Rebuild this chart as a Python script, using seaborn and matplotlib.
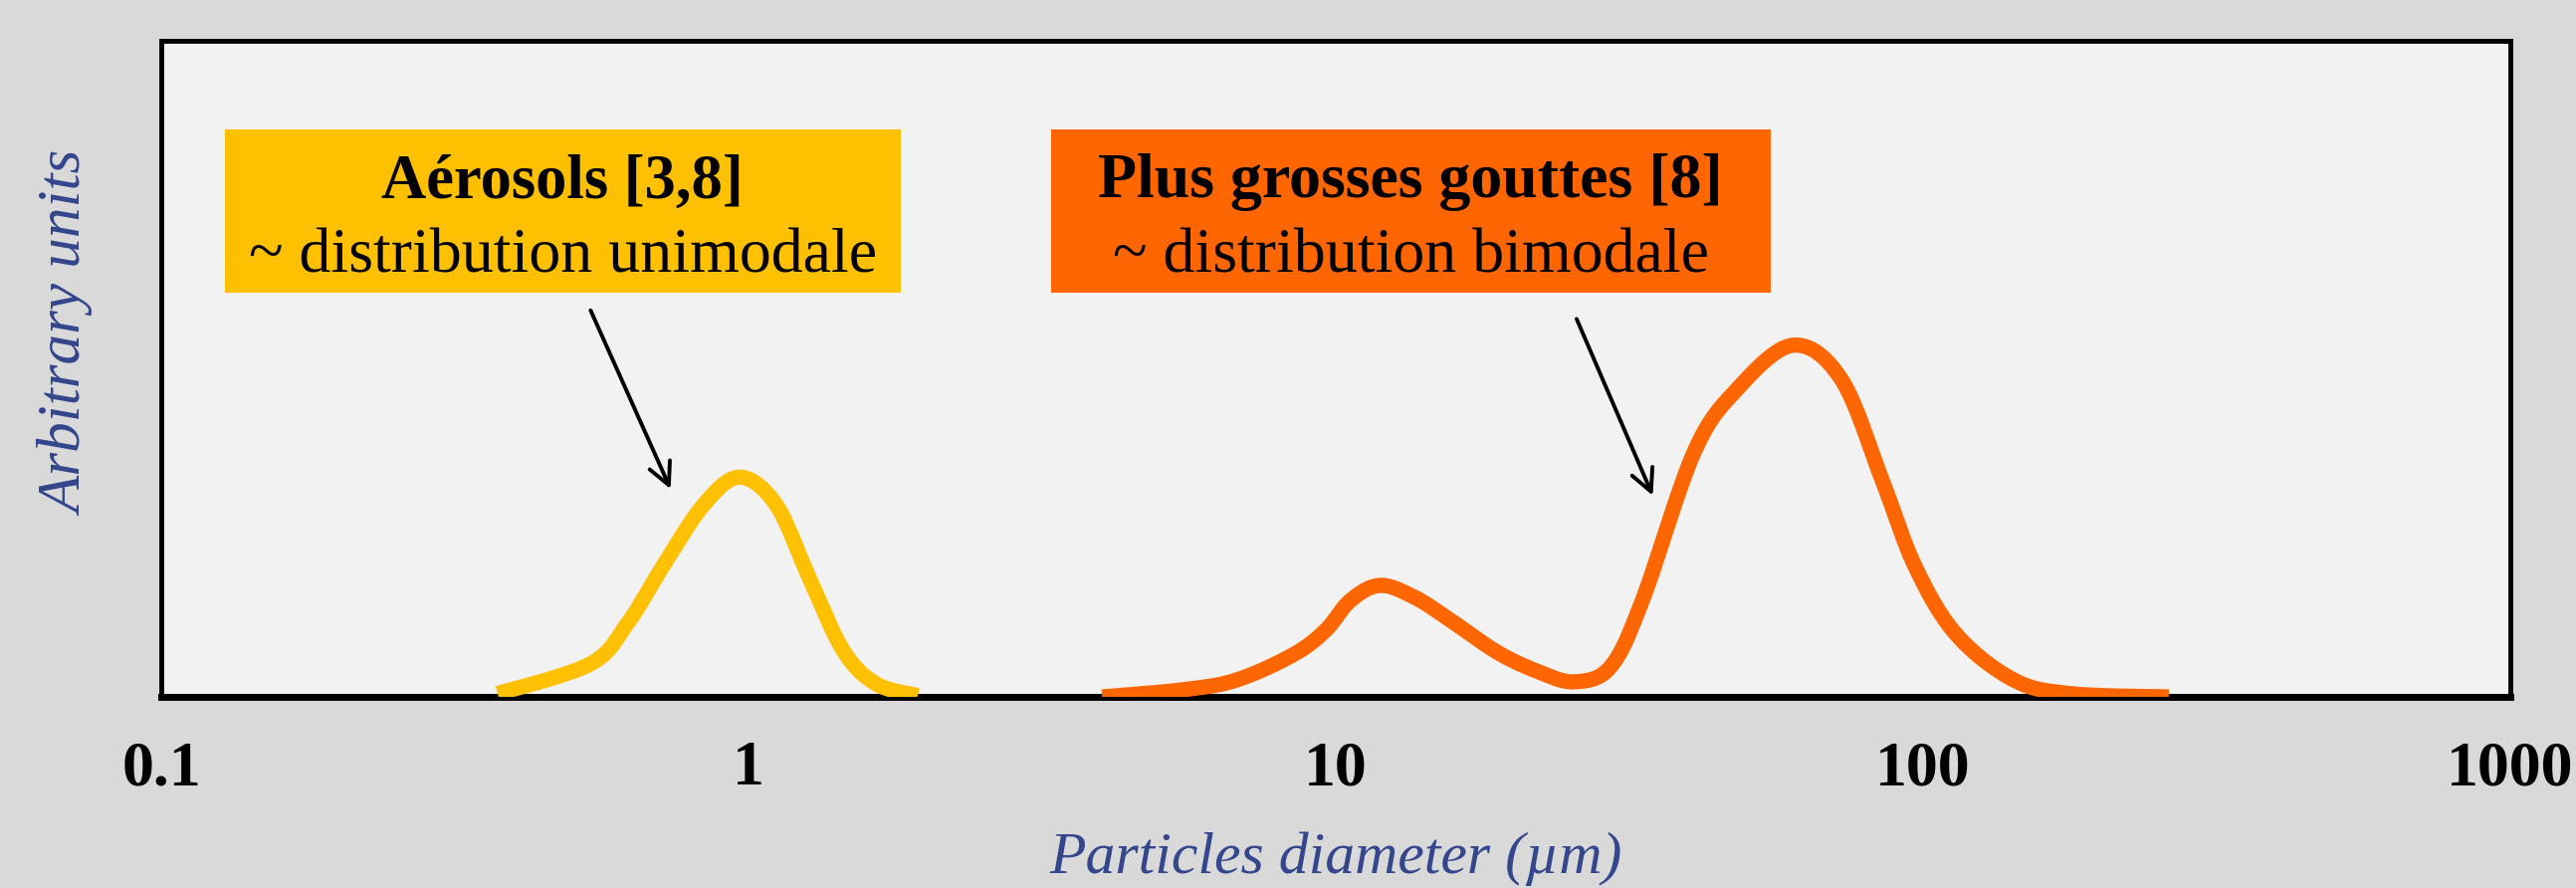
import numpy as np
import pandas as pd
import matplotlib
matplotlib.use("Agg")
import matplotlib.pyplot as plt
from matplotlib.patches import Rectangle
import seaborn as sns

# diamètres (µm) et intensités
aerosol_d = [0.374, 0.537, 0.621, 0.718, 0.839, 0.966, 1.114, 1.268, 1.449, 1.648, 1.941]
aerosol_y = [0.005, 0.050, 0.111, 0.202, 0.293, 0.335, 0.293, 0.182, 0.071, 0.020, 0.002]

drop_d = [4.0, 5.51, 6.79, 8.49, 9.62, 10.59, 11.89, 13.61, 15.67, 18.84, 22.18, 25.53,
          29.38, 33.27, 40.7, 48.0, 60.0, 72.6, 85.3, 96.9, 113.7, 142.6, 178, 262]
drop_y = [0.0, 0.011, 0.026, 0.065, 0.102, 0.147, 0.170, 0.152, 0.117, 0.068, 0.038, 0.023,
          0.046, 0.147, 0.372, 0.467, 0.536, 0.484, 0.329, 0.199, 0.096, 0.026, 0.005, 0.0]

ticks = [0.1, 1, 10, 100, 1000]
tick_labels = ["0.1", "1", "10", "100", "1000"]

yellow = "#FFC000"
orange = "#FF6600"
label_col = "#34468C"

sns.set_style("white")
plt.rcParams['font.family'] = ['Liberation Serif', 'DejaVu Serif']
plt.rcParams['text.color'] = 'black'

fig = plt.figure(figsize=(25.88, 8.92), dpi=100, facecolor="#D9D9D9")
ax = fig.add_axes([0.0626, 0.2152, 0.9119, 0.7388])
ax.set_facecolor("#F2F2F2")

df_a = pd.DataFrame({"d": aerosol_d, "y": aerosol_y})
df_b = pd.DataFrame({"d": drop_d, "y": drop_y})

# lissage des points lus (Catmull-Rom en log10)
def smooth(df):
    pts = np.column_stack([np.log10(df["d"].values), df["y"].values])
    out = []
    for i in range(len(pts) - 1):
        p0 = pts[i - 1] if i > 0 else pts[i]
        p1, p2 = pts[i], pts[i + 1]
        p3 = pts[i + 2] if i + 2 < len(pts) else pts[i + 1]
        for t in np.linspace(0, 1, 20, endpoint=False):
            t2, t3 = t * t, t * t * t
            out.append(0.5 * (2 * p1 + (-p0 + p2) * t + (2 * p0 - 5 * p1 + 4 * p2 - p3) * t2
                              + (-p0 + 3 * p1 - 3 * p2 + p3) * t3))
    out.append(pts[-1])
    out = np.array(out)
    return pd.DataFrame({"d": 10 ** out[:, 0], "y": out[:, 1]})

line_kw = dict(lw=11, sort=False, zorder=3, solid_capstyle="butt", solid_joinstyle="round")
sns.lineplot(data=smooth(df_a), x="d", y="y", color=yellow, ax=ax, **line_kw)
sns.lineplot(data=smooth(df_b), x="d", y="y", color=orange, ax=ax, **line_kw)

ax.set_xscale("log")
ax.set_xlim(0.1, 1000)
ax.set_ylim(0, 1)
ax.set_xticks(ticks)
ax.set_xticklabels(tick_labels, fontsize=46, fontweight="bold", color="black")
ax.minorticks_off()
ax.set_yticks([])
ax.tick_params(axis="x", direction="out", length=14, width=4, pad=18, colors="black")

for s in ax.spines.values():
    s.set_visible(True)
    s.set_color("black")
    s.set_linewidth(3.5)
ax.spines["bottom"].set_linewidth(5)
ax.spines["bottom"].set_zorder(2)

ax.set_xlabel("Particles diameter (µm)", fontsize=43, style="italic", color=label_col)
ax.xaxis.set_label_coords(0.5, -0.205)
ax.set_ylabel("Arbitrary units", fontsize=44, style="italic", color=label_col)
ax.yaxis.set_label_coords(-0.028, 0.554)

# boîtes de texte
ax.add_patch(Rectangle((0.0271, 0.616), 0.2877, 0.249, transform=ax.transAxes,
                       facecolor=yellow, edgecolor="none", zorder=4))
ax.add_patch(Rectangle((0.3788, 0.616), 0.3064, 0.249, transform=ax.transAxes,
                       facecolor=orange, edgecolor="none", zorder=4))
ax.text(0.1708, 0.784, "Aérosols [3,8]", transform=ax.transAxes, ha="center", va="center",
        fontsize=45, fontweight="bold", color="black", zorder=5)
ax.text(0.1708, 0.670, "~ distribution unimodale", transform=ax.transAxes, ha="center",
        va="center", fontsize=46, color="black", zorder=5)
ax.text(0.5318, 0.784, "Plus grosses gouttes [8]", transform=ax.transAxes, ha="center",
        va="center", fontsize=46, fontweight="bold", color="black", zorder=5)
ax.text(0.5318, 0.670, "~ distribution bimodale", transform=ax.transAxes, ha="center",
        va="center", fontsize=46, color="black", zorder=5)

# flèches
arrow = dict(arrowstyle="->", color="black", lw=2.8, mutation_scale=40)
ax.annotate("", xy=(0.74, 0.313), xytext=(0.536, 0.593), arrowprops=arrow, zorder=5)
ax.annotate("", xy=(34.8, 0.303), xytext=(25.6, 0.580), arrowprops=arrow, zorder=5)

fig.savefig("out.png", dpi=100, facecolor=fig.get_facecolor())
